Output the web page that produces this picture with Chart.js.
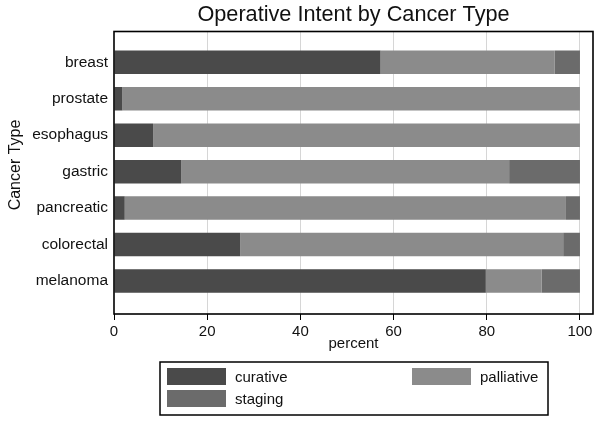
<!DOCTYPE html>
<html>
<head>
<meta charset="utf-8">
<script src="https://cdn.jsdelivr.net/npm/chart.js@4.4.1/dist/chart.umd.min.js"></script>
<style>
html,body{margin:0;padding:0;background:#fff;}
#wrap{width:602px;height:422px;position:relative;}
</style>
</head>
<body>
<div id="wrap"><canvas id="c"></canvas></div>
<script>
const categories = ["breast","prostate","esophagus","gastric","pancreatic","colorectal","melanoma"];
const curative   = [57.2, 1.8, 8.4, 14.4, 2.3, 27.1, 79.8];
const palliative = [37.4, 98.2, 91.6, 70.4, 94.7, 69.3, 12.0];
const staging    = [5.4, 0, 0, 15.2, 3.0, 3.6, 8.2];
const xTicks = [0, 20, 40, 60, 80, 100];
const seriesNames = ["curative","palliative","staging"];
const seriesColors = ["#4a4a4a","#8b8b8b","#6b6b6b"];

const FONT = "'Liberation Sans', Arial, sans-serif";

function toPoints(arr){ return arr.map((v,i)=>({x:v, y:i})); }

const extras = {
  id:'extras',
  afterDraw(chart){
    const ctx = chart.ctx, a = chart.chartArea;
    ctx.save();
    // frame
    ctx.strokeStyle = '#000'; ctx.lineWidth = 1.6;
    ctx.strokeRect(a.left, a.top, a.right - a.left, a.bottom - a.top);
    // title
    ctx.fillStyle = '#111';
    ctx.font = "21.7px " + FONT;
    ctx.textAlign = 'center'; ctx.textBaseline = 'middle';
    ctx.fillText("Operative Intent by Cancer Type", (a.left + a.right)/2, 15);
    // y title
    ctx.save();
    ctx.translate(15.5, 165);
    ctx.rotate(-Math.PI/2);
    ctx.font = "16px " + FONT;
    ctx.fillText("Cancer Type", 0, 0);
    ctx.restore();
    // legend
    ctx.lineWidth = 1.5; ctx.strokeStyle = '#000';
    ctx.strokeRect(160, 362, 388, 53);
    const pos = [[167,368],[412,368],[167,390]];
    ctx.font = "15px " + FONT; ctx.textAlign = 'left';
    chart.data.datasets.forEach((ds, i) => {
      const [x, y] = pos[i];
      ctx.fillStyle = ds.backgroundColor;
      ctx.fillRect(x, y, 59, 17);
      ctx.fillStyle = '#111';
      ctx.fillText(ds.label, x + 68, y + 9.5);
    });
    ctx.restore();
  }
};

new Chart(document.getElementById('c'), {
  type: 'bar',
  data: {
    datasets: [
      {label: seriesNames[0], data: toPoints(curative), backgroundColor: seriesColors[0]},
      {label: seriesNames[1], data: toPoints(palliative), backgroundColor: seriesColors[1]},
      {label: seriesNames[2], data: toPoints(staging), backgroundColor: seriesColors[2]}
    ]
  },
  options: {
    indexAxis: 'y',
    responsive: true,
    maintainAspectRatio: false,
    animation: false,
    datasets: { bar: { categoryPercentage: 1, barPercentage: 0.645, borderWidth: 0 } },
    layout: { padding: { top: 31.5, left: 0, right: 9, bottom: 69 } },
    plugins: { legend: {display:false}, title: {display:false}, tooltip: {enabled:false} },
    scales: {
      x: {
        type: 'linear', stacked: true, min: 0, max: 102.8, offset: false,
        afterBuildTicks(s){ s.ticks = xTicks.map(v=>({value:v})); },
        afterFit(s){ s.height = 39; },
        grid: {
          color: (c) => (c.tick && c.tick.value === 0) ? 'rgba(0,0,0,0)' : '#d6d6d6',
          tickColor: '#000', tickLength: 6, lineWidth: 1, drawOnChartArea: true
        },
        border: { display: false },
        ticks: { color: '#111', font: { family: FONT, size: 15 }, padding: 3, maxRotation: 0 },
        title: { display: true, text: 'percent', color: '#111', font: { family: FONT, size: 15 }, padding: { top: 0, bottom: 0 } }
      },
      y: {
        type: 'linear', stacked: true, reverse: true, min: -0.845, max: 6.905, offset: false,
        afterBuildTicks(s){ s.ticks = categories.map((_, i)=>({value:i})); },
        afterFit(s){ s.width = 114; },
        grid: { display: false, drawTicks: false, offset: false },
        border: { display: false },
        ticks: { color: '#111', font: { family: FONT, size: 15.5 }, padding: 6,
                 callback: (v) => categories[v] }
      }
    }
  },
  plugins: [extras]
});
</script>
</body>
</html>
